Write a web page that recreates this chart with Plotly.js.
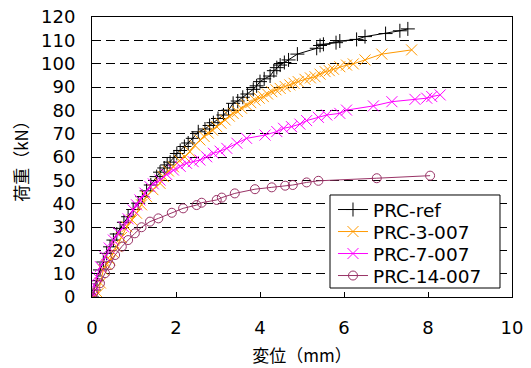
<!DOCTYPE html>
<html>
<head>
<meta charset="utf-8">
<script src="https://cdn.plot.ly/plotly-3.0.1.min.js"></script>
<style>html,body{margin:0;padding:0;background:#fff;}#chart{width:531px;height:368px;}</style>
</head>
<body>
<div id="chart"></div>
<script>
const seriesNames = ["PRC-ref", "PRC-3-007", "PRC-7-007", "PRC-14-007"];

const refX = [0,0.05,0.12,0.19,0.27,0.35,0.43,0.51,0.59,0.67,0.76,0.86,0.98,1.10,1.20,1.30,1.40,1.54,1.62,1.72,1.79,1.86,1.95,2.02,2.10,2.20,2.29,2.40,2.53,2.69,2.80,2.89,3.00,3.13,3.25,3.36,3.47,3.59,3.70,3.84,3.92,4.00,4.10,4.24,4.33,4.40,4.48,4.58,4.68,4.89,5.35,5.43,5.51,5.81,5.90,6.30,6.50,6.99,7.33,7.52];
const refY = [0,3,7,11.6,15,18.7,21.5,24.4,27,29.4,32,34.4,37.5,40.2,43,45.5,48,51.6,53.5,55.3,56.6,57.8,59.8,61.5,62.8,64.5,66,68,70.8,72,73.5,74.7,76.5,78,80.1,83,84,85.6,87,89,90.5,92.3,93.5,94.7,97,98.3,99.4,100.5,101.6,104.1,106.6,107.8,108.3,109,109.7,110.4,111.6,112.9,114.1,114.9];

const s3X = [0,0.15,0.20,0.27,0.35,0.43,0.51,0.59,0.70,0.83,0.95,1.06,1.18,1.30,1.45,1.62,1.70,1.82,1.94,2.08,2.21,2.33,2.45,2.57,2.67,2.77,2.87,2.97,3.07,3.17,3.27,3.36,3.46,3.56,3.68,3.78,3.88,3.98,4.08,4.18,4.28,4.38,4.48,4.60,4.71,4.81,4.91,5.07,5.20,5.31,5.43,5.55,5.65,5.75,5.90,6.06,6.22,6.50,6.90,7.61];
const s3Y = [0,1.6,6,11.6,14,15.9,19,21.6,25.5,30.1,33,35.9,39.5,43,46,48.7,51.6,54,55.8,58.5,60.1,62.3,65,67.3,68.8,70.2,71.5,73,74.5,75.9,77.5,78.7,79.5,80.9,82.3,83.3,84.4,85.2,85.9,87,88,88.8,89.4,90.2,90.9,91.6,92.3,93.3,93.9,94.4,95.5,96.6,97,97.6,98.7,99.4,99.9,101.6,104.1,105.9];

const s7X = [0,0.02,0.05,0.11,0.20,0.31,0.41,0.51,0.63,0.75,0.86,0.98,1.06,1.14,1.26,1.38,1.46,1.62,1.78,1.94,2.10,2.25,2.41,2.57,2.73,2.89,3.05,3.21,3.45,3.68,4.12,4.40,4.56,4.75,4.95,5.11,5.39,5.59,5.90,6.06,6.70,7.14,7.69,7.97,8.09,8.29];
const s7Y = [0,1.6,5,8.7,13,17.3,21,24.4,27.5,30.1,33.5,37.3,39.5,41.6,44.5,47.3,48.5,50.1,52.5,54.4,56,57.3,58,58.7,60.1,61.6,62.5,63.7,65.9,68,69.4,70.9,72.3,73,74.1,75.6,77,78,78.7,80.1,81.9,83.7,84.7,85.2,85.9,86.6];

const s14X = [0,0.03,0.19,0.31,0.43,0.55,0.71,0.86,1.02,1.18,1.38,1.58,1.90,2.17,2.49,2.61,2.97,3.09,3.40,3.88,4.28,4.60,4.78,5.11,5.39,6.78,8.05];
const s14Y = [0,1.6,5.9,10.2,13.7,18,21.6,24.4,27.3,29.9,32.3,33.7,36.1,38,39.4,40.4,41.6,42.6,44.4,46.2,47,47.7,48,49.1,49.8,50.9,52];

const xTicks = [0,2,4,6,8,10];
const yTicks = [0,10,20,30,40,50,60,70,80,90,100,110,120];

const FONT = '"DejaVu Sans", "Noto Sans CJK JP", sans-serif';
const CJK = '"Noto Sans CJK JP", "DejaVu Sans", sans-serif';

const traces = [
  {x: refX, y: refY, name: seriesNames[0], mode: 'lines+markers', legend: 'legend',
   line: {color: '#000000', width: 1},
   marker: {symbol: 'cross-thin-open', size: 10, color: '#000000', line: {color: '#000000', width: 1}}},
  {x: s3X, y: s3Y, name: seriesNames[1], mode: 'lines+markers', legend: 'legend2',
   line: {color: '#FF9900', width: 1},
   marker: {symbol: 'x-thin-open', size: 11, color: '#FF9900', line: {color: '#FF9900', width: 1}}},
  {x: s7X, y: s7Y, name: seriesNames[2], mode: 'lines+markers', legend: 'legend3',
   line: {color: '#FF00FF', width: 1},
   marker: {symbol: 'x-thin-open', size: 11, color: '#FF00FF', line: {color: '#FF00FF', width: 1}}},
  {x: s14X, y: s14Y, name: seriesNames[3], mode: 'lines+markers', legend: 'legend4',
   line: {color: '#993366', width: 1},
   marker: {symbol: 'circle-open', size: 9, color: '#993366', line: {color: '#993366', width: 1}}}
];

function leg(yc) {
  return {x: 0.5738, y: yc, xanchor: 'left', yanchor: 'middle',
    bgcolor: 'rgba(0,0,0,0)', borderwidth: 0,
    font: {family: FONT, size: 18.5, color: '#000'}};
}

const layout = {
  width: 531, height: 368,
  margin: {l: 92, r: 19, t: 17, b: 71},
  paper_bgcolor: '#ffffff', plot_bgcolor: '#ffffff',
  font: {family: FONT, size: 18, color: '#000'},
  showlegend: true,
  legend: leg(0.3107),
  legend2: leg(0.2321),
  legend3: leg(0.1536),
  legend4: leg(0.0750),
  shapes: [{type: 'rect', xref: 'paper', yref: 'paper', x0: 0.5667, x1: 0.9714, y0: 0.0321, y1: 0.3643,
    fillcolor: '#ffffff', line: {color: '#000000', width: 1}, layer: 'above'}],
  xaxis: {range: [0, 10], tickvals: xTicks, ticktext: xTicks.map(String),
    ticks: 'inside', ticklen: 5, tickcolor: '#000', showgrid: false, zeroline: false,
    showline: true, linecolor: '#000', linewidth: 1, mirror: true,
    ticklabelstandoff: 14,
    tickfont: {family: FONT, size: 18, color: '#000'},
    title: {text: '変位（mm）', font: {family: CJK, size: 17, color: '#000'}, standoff: 13}},
  yaxis: {range: [0, 120], tickvals: yTicks, ticktext: yTicks.map(String),
    ticks: 'inside', ticklen: 5, tickcolor: '#000',
    showgrid: true, gridcolor: '#000', griddash: '9px,5px', gridwidth: 1, zeroline: false,
    showline: true, linecolor: '#000', linewidth: 1, mirror: true,
    ticklabelstandoff: 12,
    tickfont: {family: FONT, size: 18, color: '#000'},
    title: {text: '荷重（kN）', font: {family: CJK, size: 17, color: '#000'}, standoff: 8}}
};

Plotly.newPlot('chart', traces, layout, {displayModeBar: false, staticPlot: true});
</script>
</body>
</html>
